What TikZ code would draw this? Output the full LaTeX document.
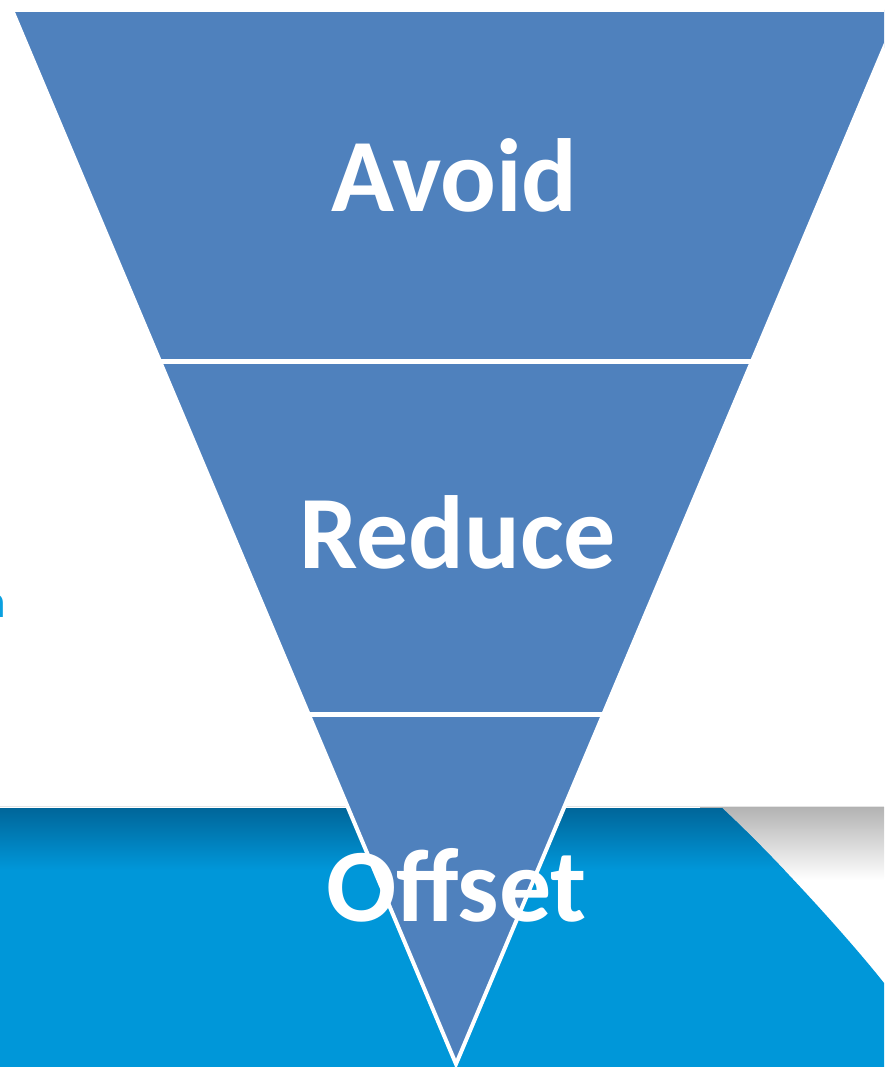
\documentclass[tikz,border=0pt]{standalone}
\usepackage{fontspec}
\setmainfont{Carlito}
\definecolor{funnel}{HTML}{4F81BD}
\definecolor{bandblue}{HTML}{0097D9}
\definecolor{banddark}{HTML}{00669A}
\definecolor{textcyan}{HTML}{0AA0E0}
\tikzset{
  funnelfill/.style={fill=funnel, draw=white, line width=4pt, line join=miter},
  separator/.style={draw=white, line width=5pt},
  bigtext/.style={text=white, font=\fontsize{104}{110}\selectfont\bfseries, inner sep=0pt, anchor=base},
}
\begin{document}
\begin{tikzpicture}[x=1pt,y=-1pt]
\useasboundingbox (0,0) rectangle (884,1067);
\clip (0,0) rectangle (884,1067);
\fill[white] (0,0) rectangle (884,1067);
% gray shadow to the right of the band
\shade[top color=black!30, bottom color=white] (700,807) rectangle (884,880);
\draw[black!10, line width=1pt] (0,806.5) -- (884,806.5);
% blue band with curved right edge
\def\bandpath{(0,808) -- (722,808) .. controls (777,859) and (850,940) .. (884,983) -- (884,1067) -- (0,1067) -- cycle}
\fill[bandblue] \bandpath;
\begin{scope}
  \clip \bandpath;
  \shade[top color=banddark, bottom color=bandblue] (0,808) rectangle (884,870);
\end{scope}
% clipped blue letter on the left edge
\node[text=textcyan, font=\fontsize{47}{50}\selectfont, inner sep=0pt, anchor=base east] (cut) at (6,617) {n};
% funnel
\coordinate (tl) at (12,10);
\coordinate (tr) at (900,10);
\coordinate (apex) at (456,1064);
\path[funnelfill] (tl) -- (tr) -- (apex) -- cycle;
\coordinate (s1l) at (150,361.5);
\coordinate (s1r) at (760,361.5);
\coordinate (s2l) at (295,714.5);
\coordinate (s2r) at (615,714.5);
\draw[separator] (s1l) -- (s1r);
\draw[separator] (s2l) -- (s2r);
% labels
\node[bigtext] (avoid) at (454.5,212) {Avoid};
\node[bigtext] (reduce) at (457.5,568) {Reduce};
\node[bigtext] (offset) at (456.5,921) {Offset};
\end{tikzpicture}
\end{document}
